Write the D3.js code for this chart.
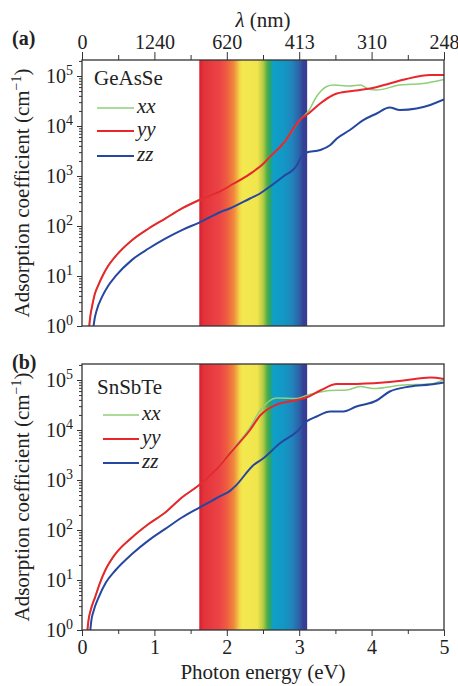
<!DOCTYPE html>
<html>
<head>
<meta charset="utf-8">
<script src="https://cdn.jsdelivr.net/npm/d3@7"></script>
<style>
  body { margin: 0; background: #fff; }
  svg { display: block; }
  text { font-family: "Liberation Serif", "Times New Roman", serif; fill: #222; }
</style>
</head>
<body>
<div id="chart"></div>
<script>
// photon energy ticks (eV) and matching wavelength labels (nm)
const energyTicks = [0, 1, 2, 3, 4, 5];
const energyMinor = [0.5, 1.5, 2.5, 3.5, 4.5];
const lambdaLabels = ['0', '1240', '620', '413', '310', '248'];
const decades = [1, 10, 100, 1000, 10000, 100000];
const seriesNames = ['xx', 'yy', 'zz'];
const materials = ['GeAsSe', 'SnSbTe'];

// GeAsSe (a)
const geXXEnergy = [0.10, 0.115, 0.14, 0.18, 0.22, 0.28, 0.36, 0.46, 0.69, 0.92, 1.15, 1.38, 1.62, 1.93, 2.04, 2.32, 2.50, 2.60, 2.78, 3.01, 3.13, 3.24, 3.38, 3.47, 3.58, 3.70, 3.84, 3.98, 4.07, 4.39, 4.71, 5.00];
const geXX = [1, 1.58, 2.5, 4.5, 6.3, 9.8, 15.8, 24.5, 52, 89, 141, 224, 331, 513, 631, 1100, 1740, 2450, 4470, 13200, 20000, 38900, 61700, 66100, 64600, 63100, 66100, 53700, 52500, 66100, 70800, 85100];
const geYYEnergy = [0.10, 0.115, 0.14, 0.18, 0.22, 0.28, 0.36, 0.46, 0.69, 0.92, 1.15, 1.38, 1.62, 1.93, 2.04, 2.32, 2.50, 2.60, 2.78, 3.01, 3.13, 3.29, 3.47, 3.52, 3.79, 3.98, 4.25, 4.48, 4.81, 5.00];
const geYY = [1, 1.58, 2.5, 4.5, 6.3, 9.8, 15.8, 24.5, 52, 89, 141, 224, 331, 513, 631, 1100, 1740, 2450, 4470, 13200, 17800, 28200, 41700, 44700, 51300, 56200, 70800, 87100, 105000, 105000];
const geZZEnergy = [0.16, 0.175, 0.20, 0.28, 0.36, 0.46, 0.69, 0.92, 1.15, 1.38, 1.62, 1.93, 2.04, 2.32, 2.46, 2.50, 2.78, 2.97, 3.03, 3.10, 3.29, 3.43, 3.52, 3.70, 3.89, 4.07, 4.25, 4.39, 4.62, 4.81, 5.00];
const geZZ = [1, 1.41, 2.0, 3.9, 6.3, 9.8, 21, 35.5, 56, 83, 117, 195, 224, 355, 447, 490, 977, 1660, 2450, 2950, 3310, 4170, 5620, 8320, 13200, 17800, 23400, 20900, 22400, 26300, 33900];

// SnSbTe (b)
const snXXEnergy = [0.075, 0.09, 0.12, 0.18, 0.25, 0.32, 0.46, 0.69, 0.92, 1.15, 1.38, 1.61, 1.84, 2.04, 2.32, 2.46, 2.69, 2.97, 3.10, 3.20, 3.43, 3.66, 3.84, 4.02, 4.44, 4.81, 5.00];
const snXX = [1, 1.58, 2.5, 4.5, 8.9, 15.5, 33, 71, 132, 224, 447, 776, 1550, 3550, 11200, 24500, 43700, 42700, 49000, 53700, 61700, 63100, 74100, 67600, 79400, 83200, 102000];
const snYYEnergy = [0.075, 0.09, 0.12, 0.18, 0.25, 0.32, 0.46, 0.69, 0.92, 1.15, 1.38, 1.61, 1.84, 2.04, 2.32, 2.46, 2.69, 2.97, 3.10, 3.29, 3.52, 3.70, 4.16, 4.44, 4.81, 5.00];
const snYY = [1, 1.58, 2.5, 4.5, 8.9, 15.5, 33, 71, 132, 224, 447, 776, 1550, 3390, 10000, 19500, 32400, 39800, 44700, 61700, 83200, 83200, 89100, 97700, 112000, 105000];
const snZZEnergy = [0.115, 0.13, 0.16, 0.23, 0.33, 0.46, 0.69, 0.92, 1.15, 1.38, 1.61, 1.93, 2.04, 2.12, 2.37, 2.50, 2.73, 2.97, 3.10, 3.24, 3.43, 3.61, 3.79, 4.07, 4.25, 4.53, 4.81, 5.00];
const snZZ = [1, 1.58, 2.4, 4.5, 8.9, 15.5, 33, 62, 105, 178, 275, 490, 600, 760, 2000, 2690, 5370, 9330, 14800, 18600, 23400, 23400, 29500, 38900, 58900, 74100, 81300, 89100];

// visible-light band (eV) and its colours
const bandEnergy = [1.62, 1.68, 1.90, 2.00, 2.10, 2.18, 2.22, 2.42, 2.50, 2.56, 2.60, 2.64, 2.80, 2.90, 3.00, 3.06, 3.11];
const bandColour = ['#d41f2c', '#e3323b', '#ec4446', '#ee5c40', '#f08a3c', '#f4d84a', '#f3e94f', '#f1e54d', '#b8cc45', '#4cae4a', '#2aa56a', '#0ea0c8', '#1496c4', '#2184bc', '#2d62a8', '#363f95', '#3a3a92'];

const colours = { xx: '#8fcf7a', yy: '#e8262b', zz: '#2547a0' };
const widths = { xx: 1.5, yy: 2, zz: 2 };

const width = 458, height = 686;
const left = 82, right = 444;

const svg = d3.select('#chart').append('svg')
  .attr('width', width)
  .attr('height', height);

const x = d3.scaleLinear().domain([0, 5]).range([left, right]);

const defs = svg.append('defs');
const grad = defs.append('linearGradient')
  .attr('id', 'spectrum')
  .attr('gradientUnits', 'userSpaceOnUse')
  .attr('x1', x(bandEnergy[0])).attr('x2', x(bandEnergy[bandEnergy.length - 1]))
  .attr('y1', 0).attr('y2', 0);
const span = bandEnergy[bandEnergy.length - 1] - bandEnergy[0];
grad.selectAll('stop')
  .data(bandEnergy)
  .enter().append('stop')
  .attr('offset', d => (d - bandEnergy[0]) / span)
  .attr('stop-color', (d, i) => bandColour[i]);

const panels = [
  { top: 60, bottom: 326, tag: '(a)', tagY: 45, series: [[geXXEnergy, geXX], [geYYEnergy, geYY], [geZZEnergy, geZZ]],
    legend: { nameX: 94, nameY: 85, x1: 97, x2: 134, rows: [108, 131, 156] } },
  { top: 364, bottom: 630, tag: '(b)', tagY: 369, series: [[snXXEnergy, snXX], [snYYEnergy, snYY], [snZZEnergy, snZZ]],
    legend: { nameX: 97, nameY: 394, x1: 103, x2: 139, rows: [415, 439, 463] } }
];

panels.forEach((p, pi) => {
  const g = svg.append('g');
  // 50 px per decade, frame runs a bit above 1e5
  const y = d3.scaleLog()
    .domain([1, Math.pow(10, (p.bottom - p.top) / 50)])
    .range([p.bottom, p.top]);

  defs.append('clipPath').attr('id', 'clip' + pi)
    .append('rect')
    .attr('x', left).attr('y', p.top)
    .attr('width', right - left).attr('height', p.bottom - p.top);

  g.append('rect')
    .attr('x', x(bandEnergy[0]))
    .attr('y', p.top)
    .attr('width', x(bandEnergy[bandEnergy.length - 1]) - x(bandEnergy[0]))
    .attr('height', p.bottom - p.top)
    .attr('fill', 'url(#spectrum)');

  const line = d3.line()
    .x(d => x(d[0]))
    .y(d => y(d[1]))
    .curve(d3.curveMonotoneX);

  const curves = g.append('g').attr('clip-path', 'url(#clip' + pi + ')');
  p.series.forEach((s, si) => {
    const name = seriesNames[si];
    curves.append('path')
      .datum(d3.zip(s[0], s[1]))
      .attr('d', line)
      .attr('fill', 'none')
      .attr('stroke', colours[name])
      .attr('stroke-width', widths[name])
      .attr('stroke-linejoin', 'round');
  });

  // y axis: major + minor ticks
  const minor = [];
  decades.forEach(d => { for (let k = 2; k < 10; k++) if (y(d * k) >= p.top) minor.push(d * k); });
  g.append('g')
    .attr('transform', `translate(${left},0)`)
    .call(d3.axisLeft(y).tickValues(decades).tickSize(5).tickFormat(''))
    .call(a => a.select('.domain').remove());
  g.append('g')
    .attr('transform', `translate(${left},0)`)
    .call(d3.axisLeft(y).tickValues(minor).tickSize(3).tickFormat(''))
    .call(a => a.select('.domain').remove());
  g.selectAll('.tick line').attr('stroke', '#333');
  g.selectAll('.tick text').remove();

  const ylab = g.selectAll('.ylab')
    .data(decades)
    .enter().append('text')
    .attr('x', 73)
    .attr('y', d => y(d) + 7)
    .attr('text-anchor', 'end')
    .attr('font-size', 20);
  ylab.append('tspan').text('10');
  ylab.append('tspan').attr('dy', -8).attr('font-size', 14).text(d => Math.round(Math.log10(d)));

  // frame
  g.append('rect')
    .attr('x', left).attr('y', p.top)
    .attr('width', right - left).attr('height', p.bottom - p.top)
    .attr('fill', 'none')
    .attr('stroke', '#333')
    .attr('stroke-width', 1.3);

  // y title
  const yt = g.append('text')
    .attr('transform', `translate(29,${(p.top + p.bottom) / 2}) rotate(-90)`)
    .attr('text-anchor', 'middle')
    .attr('font-size', 21);
  yt.append('tspan').text('Adsorption coefficient (cm');
  yt.append('tspan').attr('dy', -8).attr('font-size', 14).text('\u22121');
  yt.append('tspan').attr('dy', 8).text(')');

  // panel tag
  g.append('text')
    .attr('x', 12).attr('y', p.tagY)
    .attr('font-size', 20)
    .attr('font-weight', 'bold')
    .text(p.tag);

  // legend
  const L = p.legend;
  g.append('text')
    .attr('x', L.nameX).attr('y', L.nameY)
    .attr('font-size', 21)
    .text(materials[pi]);
  seriesNames.forEach((name, i) => {
    g.append('line')
      .attr('x1', L.x1).attr('x2', L.x2)
      .attr('y1', L.rows[i]).attr('y2', L.rows[i])
      .attr('stroke', colours[name])
      .attr('stroke-width', widths[name]);
    g.append('text')
      .attr('x', L.x2 + 3).attr('y', L.rows[i] + 5)
      .attr('font-size', 21)
      .attr('font-style', 'italic')
      .text(name);
  });
});

// top wavelength axis on (a)
const topAxis = svg.append('g').attr('transform', `translate(0,${panels[0].top})`);
topAxis.call(d3.axisTop(x).tickValues(energyTicks).tickSize(8).tickPadding(3).tickFormat((d, i) => lambdaLabels[i]));
topAxis.append('g').call(d3.axisTop(x).tickValues(energyMinor).tickSize(5).tickFormat(''))
  .call(a => a.selectAll('text').remove());
topAxis.selectAll('.domain').remove();
topAxis.selectAll('.tick line').attr('stroke', '#333');
topAxis.selectAll('.tick text')
  .attr('font-family', '"Liberation Serif", serif')
  .attr('font-size', 20)
  .attr('fill', '#222');

const lt = svg.append('text')
  .attr('x', (left + right) / 2).attr('y', 27)
  .attr('text-anchor', 'middle')
  .attr('font-size', 21);
lt.append('tspan').attr('font-style', 'italic').text('\u03bb');
lt.append('tspan').text(' (nm)');

// bottom energy axis on (b)
const botAxis = svg.append('g').attr('transform', `translate(0,${panels[1].bottom})`);
botAxis.call(d3.axisBottom(x).tickValues(energyTicks).tickSize(6).tickPadding(4).tickFormat(d3.format('d')));
botAxis.append('g').call(d3.axisBottom(x).tickValues(energyMinor).tickSize(4).tickFormat(''))
  .call(a => a.selectAll('text').remove());
botAxis.selectAll('.domain').remove();
botAxis.selectAll('.tick line').attr('stroke', '#333');
botAxis.selectAll('.tick text')
  .attr('font-family', '"Liberation Serif", serif')
  .attr('font-size', 20)
  .attr('fill', '#222');

svg.append('text')
  .attr('x', (left + right) / 2).attr('y', 679)
  .attr('text-anchor', 'middle')
  .attr('font-size', 21)
  .text('Photon energy (eV)');
</script>
</body>
</html>
